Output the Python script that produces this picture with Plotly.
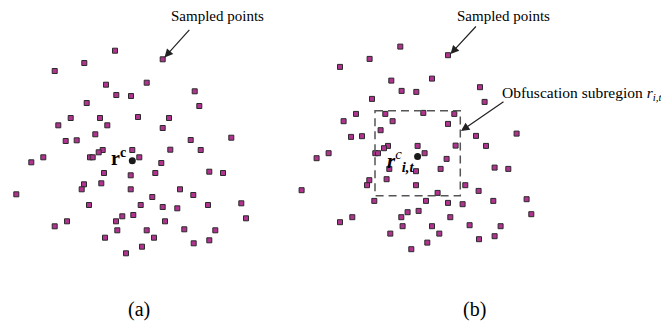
import plotly.graph_objects as go

# Sampled points (panel a coordinates, pixel-like units, y downward)
pts_x = [115, 162.7, 84.3, 54.7, 106, 146.7, 194.7, 116.3, 131, 86.7, 199.3,
         70.7, 100, 138, 169, 58.3, 107.3, 162.7, 95.3, 65.7, 76.7, 190.7, 231.3,
         102.7, 98.7, 132.3, 170.3, 200.7, 43.3, 90, 92.7, 139.3, 31.3, 161.3,
         104, 130.7, 155.3, 209.3, 223, 84, 101.3, 81.7, 130.7, 180, 193.3, 16.3,
         152.3, 89, 140.7, 162.7, 177.3, 208, 241.3, 122.3, 133.3, 116, 67, 54.7,
         165, 246, 117.3, 146.7, 184.3, 215.3, 105, 154, 209.3, 193.7, 142, 126]
pts_y = [50.7, 59.3, 63, 71, 84.7, 82.7, 91.3, 95, 96, 103, 106,
         118, 118, 117, 118, 125.3, 125.3, 128, 134.3, 141, 140.3, 140, 137.7,
         150, 152.3, 150, 149.7, 150, 157.3, 157.3, 157.3, 157.3, 162.3, 163,
         173, 175.3, 173, 171.7, 173, 184.3, 183.3, 189.3, 189.3, 189.3, 195, 194.3,
         197, 205, 205, 207, 208.3, 205, 203.3, 216.3, 215, 221.3, 221.3, 226.3,
         221.3, 218.3, 230.3, 230.3, 229.3, 230.3, 237.7, 237.7, 240.3, 243.3, 246.7, 253.3]

center_x = [132.3]
center_y = [160.7]

# Panel b is the same point set, placed to the right
b_offset = (285.3, -4.1)

# Obfuscation subregion (panel b coordinates)
box_x = [375, 460.3]
box_y = [110.7, 195.7]

panel_labels = ["(a)", "(b)"]

fig = go.Figure()
marker = dict(symbol="square", size=5, color="#b0348f",
              line=dict(color="#2a2a2a", width=1))

fig.add_trace(go.Scatter(x=pts_x, y=pts_y, mode="markers", marker=marker,
                         showlegend=False, hoverinfo="skip"))
fig.add_trace(go.Scatter(x=[v + b_offset[0] for v in pts_x],
                         y=[v + b_offset[1] for v in pts_y],
                         mode="markers", marker=marker,
                         showlegend=False, hoverinfo="skip"))
fig.add_trace(go.Scatter(x=[center_x[0], center_x[0] + b_offset[0]],
                         y=[center_y[0], center_y[0] + b_offset[1]],
                         mode="markers",
                         marker=dict(symbol="circle", size=7, color="#1a1a1a"),
                         showlegend=False, hoverinfo="skip"))

fig.add_shape(type="rect", x0=box_x[0], x1=box_x[1], y0=box_y[0], y1=box_y[1],
              line=dict(color="#555555", width=1.5, dash="8px,5px"))

serif = "Liberation Serif, Times New Roman, serif"

anns = []
# Sampled points labels + arrows
anns.append(dict(x=169, y=16, xanchor="left", text="Sampled points", showarrow=False,
                 font=dict(size=15, family=serif, color="black")))
anns.append(dict(x=164.5, y=57.5, ax=190.7, ay=28.3, axref="x", ayref="y",
                 text="", showarrow=True, arrowhead=2, arrowsize=1.4,
                 arrowwidth=1.2, arrowcolor="#222"))
anns.append(dict(x=455, y=16, xanchor="left", text="Sampled points", showarrow=False,
                 font=dict(size=15, family=serif, color="black")))
anns.append(dict(x=450.5, y=54, ax=477.3, ay=25, axref="x", ayref="y",
                 text="", showarrow=True, arrowhead=2, arrowsize=1.4,
                 arrowwidth=1.2, arrowcolor="#222"))
# Obfuscation subregion label + arrow
anns.append(dict(x=500, y=93, xanchor="left",
                 text="Obfuscation subregion <i>r</i><sub><i>i,t</i></sub>",
                 showarrow=False, font=dict(size=15.5, family=serif, color="black")))
anns.append(dict(x=461, y=131, ax=505, ay=100.7, axref="x", ayref="y",
                 text="", showarrow=True, arrowhead=2, arrowsize=1.4,
                 arrowwidth=1.2, arrowcolor="#222"))
# r^c label (a)
anns.append(dict(x=128, y=157, xanchor="right", text="<b>r</b><sup><b>c</b></sup>",
                 showarrow=False, font=dict(size=20, family=serif, color="black")))
# r^c_{i,t} label (b)
anns.append(dict(x=385, y=160, xanchor="left",
                 text="<b><i>r</i></b><sup><i>c</i></sup><sub><b><i>i,t</i></b></sub>",
                 showarrow=False, font=dict(size=21, family=serif, color="black")))
# Panel labels
anns.append(dict(x=138.5, y=309, text=panel_labels[0], showarrow=False,
                 font=dict(size=20, family=serif, color="black")))
anns.append(dict(x=474.5, y=309, text=panel_labels[1], showarrow=False,
                 font=dict(size=20, family=serif, color="black")))

for a in anns:
    a.setdefault("xref", "x")
    a.setdefault("yref", "y")

# The page body has an 8px default margin: the figure is sized and its
# axis ranges chosen so that data units equal page pixels.
fig.update_layout(
    width=661, height=314,
    margin=dict(l=0, r=0, t=0, b=0),
    paper_bgcolor="white", plot_bgcolor="white",
    annotations=anns,
    xaxis=dict(range=[8, 669], visible=False, fixedrange=True),
    yaxis=dict(range=[322, 8], visible=False, fixedrange=True),
)

fig.write_html("out.html")
